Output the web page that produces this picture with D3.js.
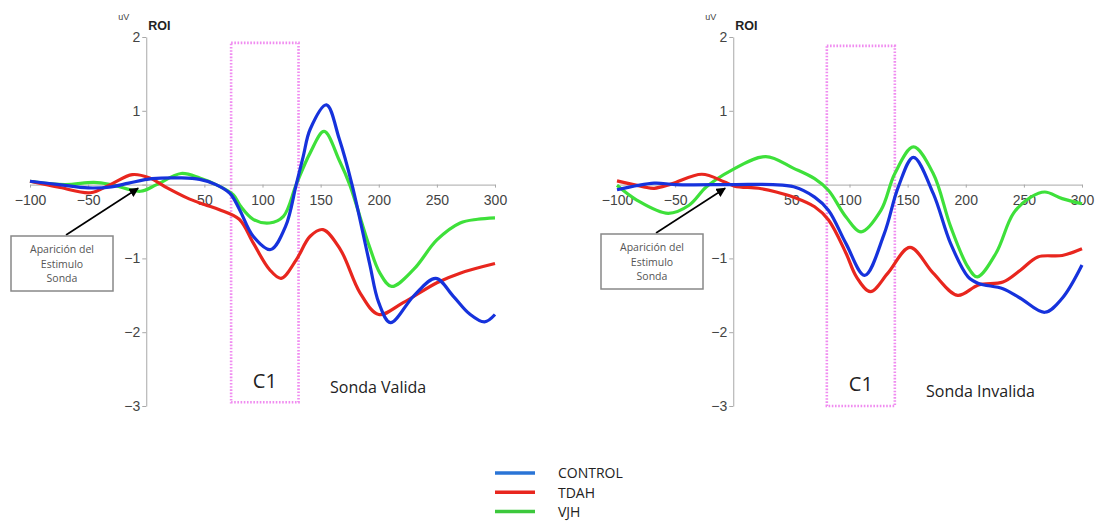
<!DOCTYPE html>
<html><head><meta charset="utf-8">
<script src="https://cdn.jsdelivr.net/npm/d3@7"></script>
<style>
body{margin:0;background:#fff;}
</style></head>
<body><svg id="c" width="1096" height="524" font-family="'Liberation Sans',Arial,sans-serif"></svg>
<script>
// ---------- DATA ----------
const seriesNames = ["CONTROL", "TDAH", "VJH"];
const seriesColors = ["#1632dc", "#e8261e", "#3ee03a"];
const legendColors = ["#2a74d6", "#e8261e", "#3cc83c"];
const xTicks = [-100, -50, 0, 50, 100, 150, 200, 250, 300];
const yTicks = [-3, -2, -1, 0, 1, 2];

// Sonda Valida (left panel): [time ms, µV]
const validControlT = [-100,-75,-50,-30,-15,5,30,46,60,72,80,92,107,120,129,135,141,155,166,177,192,200,210,230,249,264,278,291,300];
const validControlV = [0.045,0.0,-0.045,-0.03,0.02,0.08,0.09,0.07,0.0,-0.12,-0.33,-0.7,-0.88,-0.56,0.0,0.38,0.75,1.08,0.62,0.0,-1.06,-1.6,-1.87,-1.51,-1.27,-1.51,-1.75,-1.86,-1.76];
const validTdahT = [-100,-74,-48,-31,-12,3,18,35,50,63,80,92,106,116,129,141,152,167,184,200,221,250,270,300];
const validTdahV = [0.045,-0.04,-0.11,0.0,0.135,0.09,-0.045,-0.18,-0.27,-0.34,-0.47,-0.79,-1.15,-1.27,-1.02,-0.7,-0.61,-0.88,-1.47,-1.76,-1.6,-1.33,-1.2,-1.07];
const validVjhT = [-100,-70,-45,-30,-5,9,30,46,60,75,81,92,106,118,129,141,153,166,175,192,201,211,230,250,270,285,300];
const validVjhV = [0.045,0.0,0.03,0.0,-0.09,0.0,0.15,0.09,0.0,-0.14,-0.29,-0.47,-0.52,-0.43,0.0,0.43,0.72,0.33,0.0,-0.84,-1.2,-1.38,-1.15,-0.75,-0.52,-0.47,-0.45];

// Sonda Invalida (right panel)
const invalidControlT = [-100,-68,-50,0,34,52,70,82,97,113,130,142,155,172,187,202,211,232,247,268,283,300];
const invalidControlV = [-0.07,0.02,0.0,0.0,0.0,-0.03,-0.17,-0.35,-0.8,-1.23,-0.66,-0.03,0.37,-0.12,-0.8,-1.25,-1.34,-1.41,-1.54,-1.73,-1.54,-1.09];
const invalidTdahT = [-100,-77,-68,-53,-27,-8,1,22,37,52,70,82,97,106,118,133,152,172,193,211,232,247,262,283,300];
const invalidTdahV = [0.05,-0.03,-0.05,0.01,0.14,0.04,-0.02,-0.05,-0.1,-0.17,-0.3,-0.48,-0.93,-1.25,-1.45,-1.2,-0.85,-1.2,-1.5,-1.36,-1.32,-1.16,-0.98,-0.96,-0.87];
const invalidVjhT = [-100,-83,-56,-38,-23,-2,28,52,70,82,97,110,127,139,155,172,187,202,210,226,241,256,268,283,300];
const invalidVjhV = [-0.01,-0.21,-0.39,-0.28,-0.03,0.19,0.38,0.22,0.08,-0.08,-0.44,-0.64,-0.35,0.15,0.51,0.15,-0.57,-1.12,-1.25,-0.93,-0.39,-0.17,-0.1,-0.19,-0.26];

// C1 windows [t0, t1] and [vTop, vBottom]
const validC1 = [73, 131, 1.92, -2.95];
const invalidC1 = [80.5, 139, 1.88, -3.0];

// ---------- DRAW ----------
const svg = d3.select("#c");
const defs = svg.append("defs");
defs.append("marker").attr("id","ah").attr("viewBox","0 0 10 10").attr("refX",9).attr("refY",5)
  .attr("markerWidth",6).attr("markerHeight",6).attr("orient","auto")
  .append("path").attr("d","M0,0 L10,5 L0,10 z").attr("fill","#000");

const fmt = d => d === 0 ? "" : (d < 0 ? "\u2212" + Math.abs(d) : String(d));
const sans2 = "'Open Sans',sans-serif";

function panel(cfg) {
  const x = d3.scaleLinear().domain([-100, 300]).range([cfg.x0, cfg.x1]);
  const y = d3.scaleLinear().domain([-3, 2]).range([406, 37]);
  const g = svg.append("g");

  // C1 dotted box
  g.append("rect")
    .attr("x", x(cfg.c1[0])).attr("y", y(cfg.c1[2]))
    .attr("width", x(cfg.c1[1]) - x(cfg.c1[0])).attr("height", y(cfg.c1[3]) - y(cfg.c1[2]))
    .attr("fill","none").attr("stroke","#f08cf0").attr("stroke-width",2.6).attr("stroke-dasharray","1.6,1.6");

  // y axis
  const ya = g.append("g").attr("transform", `translate(${x(0)},0)`)
    .call(d3.axisLeft(y).tickValues(yTicks).tickSize(4).tickSizeOuter(0).tickFormat(d => d < 0 ? "\u2212" + Math.abs(d) : String(d)));
  ya.attr("font-family", null);
  ya.select(".domain").attr("stroke","#a8a8a8");
  ya.selectAll(".tick line").attr("stroke","#a8a8a8");
  ya.selectAll(".tick text").attr("font-size",14).attr("fill","#444").attr("x",-6);
  ya.selectAll(".tick").filter(d => d === 0).select("text").remove();

  // x axis
  const xa = g.append("g").attr("transform", `translate(0,${y(0)})`)
    .call(d3.axisBottom(x).tickValues(xTicks).tickSize(3).tickSizeOuter(0).tickFormat(fmt));
  xa.attr("font-family", null);
  xa.select(".domain").attr("stroke","#a8a8a8");
  xa.selectAll(".tick line").attr("stroke","#a8a8a8");
  xa.selectAll(".tick text").attr("font-size",14).attr("fill","#444").attr("y",10);

  // titles
  g.append("text").attr("x", x(0) - 28).attr("y", 20).attr("font-size", 9).attr("fill","#444").text("uV");
  g.append("text").attr("x", x(0) + 2).attr("y", 30).attr("font-size", 12.5).attr("font-weight","bold").attr("fill","#222").text("ROI");

  // curves
  const line = d3.line().x(d => x(d[0])).y(d => y(d[1])).curve(d3.curveCatmullRom.alpha(0.5));
  const order = [2, 1, 0];
  order.forEach(i => {
    const pts = cfg.series[i][0].map((t, k) => [t, cfg.series[i][1][k]]);
    g.append("path").attr("d", line(pts)).attr("fill","none")
      .attr("stroke", seriesColors[i]).attr("stroke-width", 3.2).attr("stroke-linejoin","round");
  });

  // annotation box & arrow
  const bx = cfg.box;
  g.append("line").attr("x1", bx[0] + 55).attr("y1", bx[1] - 1)
    .attr("x2", x(-7)).attr("y2", y(-0.05)).attr("stroke","#000").attr("stroke-width",1.6).attr("marker-end","url(#ah)");
  g.append("rect").attr("x", bx[0]).attr("y", bx[1]).attr("width", 102).attr("height", 55)
    .attr("fill","#fff").attr("stroke","#888").attr("stroke-width",1.5);
  ["Aparici\u00f3n  del", "Estimulo", "Sonda"].forEach((s, k) => {
    g.append("text").attr("x", bx[0] + 51).attr("y", bx[1] + 17 + k * 14.5).attr("text-anchor","middle")
      .attr("font-size", 10.5).attr("fill","#555").attr("font-family", sans2).text(s);
  });

  // labels
  g.append("text").attr("x", x((cfg.c1[0] + cfg.c1[1]) / 2)).attr("y", cfg.c1y).attr("text-anchor","middle")
    .attr("font-size", 20).attr("fill","#222").attr("font-family", sans2).text("C1");
  g.append("text").attr("x", cfg.tx).attr("y", cfg.ty)
    .attr("font-size", 16).attr("fill","#222").attr("font-family", sans2).text(cfg.title);
}

panel({x0: 30, x1: 495, c1: validC1, c1y: 388, tx: 330, ty: 393, title: "Sonda Valida", box: [11, 236],
  series: [[validControlT, validControlV], [validTdahT, validTdahV], [validVjhT, validVjhV]]});
panel({x0: 617, x1: 1082, c1: invalidC1, c1y: 391, tx: 926, ty: 397, title: "Sonda Invalida", box: [601, 234],
  series: [[invalidControlT, invalidControlV], [invalidTdahT, invalidTdahV], [invalidVjhT, invalidVjhV]]});

// legend
const lg = svg.append("g");
seriesNames.forEach((n, i) => {
  const yy = 473 + i * 19.3;
  lg.append("line").attr("x1", 495).attr("x2", 535).attr("y1", yy).attr("y2", yy)
    .attr("stroke", legendColors[i]).attr("stroke-width", 3.5);
  lg.append("text").attr("x", 558).attr("y", yy + 5.2).attr("font-size", 14).attr("fill","#222")
    .attr("font-family", sans2).text(n);
});
</script></body></html>
